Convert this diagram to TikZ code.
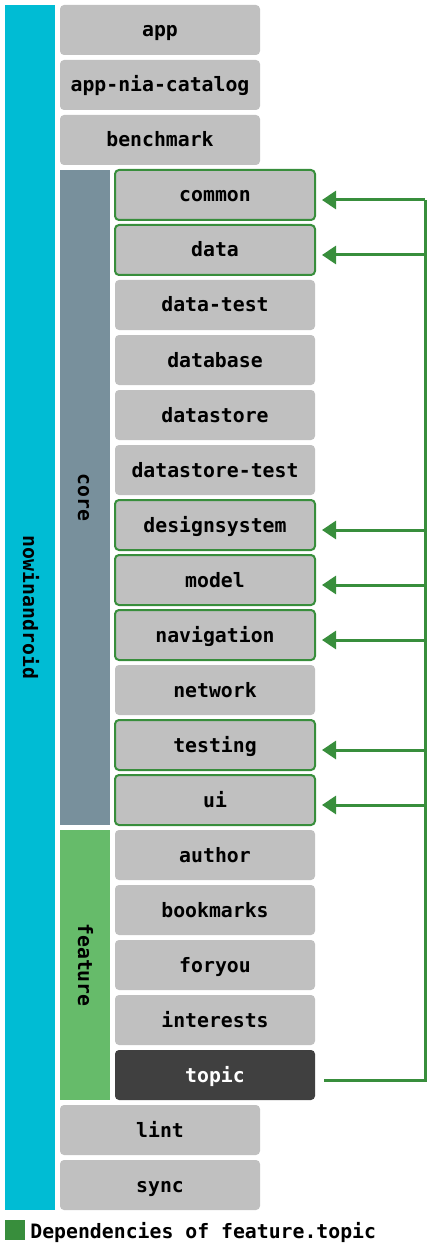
\documentclass[tikz,border=0pt]{standalone}
\usepackage{fontspec}
\setmonofont{DejaVu Sans Mono}
\usetikzlibrary{arrows.meta}
\definecolor{niacyan}{HTML}{00BCD4}
\definecolor{coregray}{HTML}{78909C}
\definecolor{featgreen}{HTML}{66BB6A}
\definecolor{boxgray}{HTML}{C0C0C0}
\definecolor{darkbox}{HTML}{404040}
\definecolor{depgreen}{HTML}{388E3C}
\begin{document}
\begin{tikzpicture}[x=1pt,y=-1pt,
  lbl/.style={font=\fontsize{19.8}{20}\selectfont\ttfamily\bfseries},
  mod/.style={lbl, rectangle, rounded corners=4pt, fill=boxgray, minimum width=200pt, minimum height=50pt, inner sep=0pt, text height=15pt, text depth=1pt, text=black},
  sel/.style={fill=darkbox, text=white},
  deps/.style={draw=depgreen, line width=2pt},
  bar/.style={lbl, rectangle, inner sep=0pt, rotate=-90, minimum height=50pt, text height=15pt, text depth=1pt},
  link/.style={draw=depgreen, line width=3pt},
  arr/.style={link, -{Triangle[length=14pt,width=18pt]}}]
\useasboundingbox (0,0) rectangle (430,1246);
% group bars
\node[bar, fill=niacyan, minimum width=1205pt] (nia) at (30,607.5) {nowinandroid};
\node[bar, fill=coregray, minimum width=655pt] (core) at (85,497.5) {core};
\node[bar, fill=featgreen, minimum width=270pt] (feature) at (85,965) {feature};
% top level modules
\node[mod] (app) at (160,30) {app};
\node[mod] (catalog) at (160,85) {app-nia-catalog};
\node[mod] (benchmark) at (160,140) {benchmark};
% core modules
\node[mod, deps] (common) at (215,195) {common};
\node[mod, deps] (data) at (215,250) {data};
\node[mod] (datatest) at (215,305) {data-test};
\node[mod] (database) at (215,360) {database};
\node[mod] (datastore) at (215,415) {datastore};
\node[mod] (datastoretest) at (215,470) {datastore-test};
\node[mod, deps] (designsystem) at (215,525) {designsystem};
\node[mod, deps] (model) at (215,580) {model};
\node[mod, deps] (navigation) at (215,635) {navigation};
\node[mod] (network) at (215,690) {network};
\node[mod, deps] (testing) at (215,745) {testing};
\node[mod, deps] (ui) at (215,800) {ui};
% feature modules
\node[mod] (author) at (215,855) {author};
\node[mod] (bookmarks) at (215,910) {bookmarks};
\node[mod] (foryou) at (215,965) {foryou};
\node[mod] (interests) at (215,1020) {interests};
\node[mod, sel] (topic) at (215,1075) {topic};
% other modules
\node[mod] (lint) at (160,1130) {lint};
\node[mod] (sync) at (160,1185) {sync};
% dependency connectors
\coordinate (trunk) at (425,200);
\draw[link] ([xshift=9pt,yshift=-5pt]topic.east) -| (trunk);
\foreach \t in {common,data,designsystem,model,navigation,testing,ui}{
  \draw[arr] ([yshift=-5pt]\t.east -| trunk) -- ([xshift=6pt,yshift=-5pt]\t.east);
}
% legend
\node[rectangle, fill=depgreen, minimum size=20pt, inner sep=0pt] (key) at (15,1230) {};
\node[lbl, anchor=west, inner sep=0pt] (keytext) at ([xshift=5pt,yshift=-2pt]key.east) {Dependencies of feature.topic};
\end{tikzpicture}
\end{document}
